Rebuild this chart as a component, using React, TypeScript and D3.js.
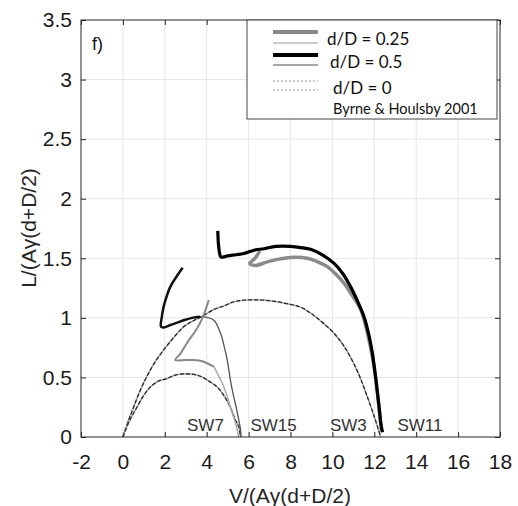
// App.tsx
import React, { useEffect, useRef } from 'react';
import * as d3 from 'd3';

// d/D = 0.5, thick black (upper branch and left hook)
const half_upper: [number, number][] = [
    [4.53, 1.73], [4.56, 1.62], [4.62, 1.54], [4.68, 1.51], [5.0, 1.52], [5.4, 1.53], [5.77, 1.54],
    [6.3, 1.57], [6.73, 1.58], [7.3, 1.6], [8.0, 1.6], [8.5, 1.59], [8.96, 1.575], [9.5, 1.53],
    [10.08, 1.457], [10.5, 1.37], [10.87, 1.26], [11.2, 1.14], [11.51, 1.01], [11.75, 0.85],
    [11.91, 0.7], [12.05, 0.52], [12.15, 0.37], [12.25, 0.22], [12.31, 0.115], [12.39, 0.04],
];
const half_hook: [number, number][] = [
    [2.85, 1.42], [2.5, 1.33], [2.26, 1.26], [2.05, 1.16], [1.94, 1.09], [1.85, 1.0], [1.82, 0.925],
    [1.95, 0.92], [2.26, 0.94], [2.6, 0.96], [2.9, 0.98], [3.3, 1.0], [3.7, 1.01],
];

// d/D = 0.25, thick grey
const quarter_upper: [number, number][] = [
    [6.54, 1.56], [6.3, 1.5], [6.06, 1.457], [6.33, 1.44], [6.89, 1.47], [7.5, 1.495], [8.0, 1.507],
    [8.8, 1.5], [9.3, 1.47], [9.76, 1.43], [10.2, 1.36], [10.56, 1.29], [10.9, 1.2], [11.36, 1.065],
    [11.7, 0.85], [11.9, 0.68], [12.1, 0.45], [12.25, 0.2], [12.35, 0.05],
];
const quarter_hook: [number, number][] = [
    [4.1, 1.15], [3.8, 1.0], [3.5, 0.9], [3.1, 0.8], [2.75, 0.7], [2.5, 0.646], [3.06, 0.646],
    [3.7, 0.64], [4.34, 0.59],
];
const quarter_tail: [number, number][] = [
    [4.34, 0.59], [4.82, 0.42], [5.13, 0.25], [5.4, 0.1], [5.53, 0.0],
];

// thin solid (Byrne & Houlsby 2001)
const bh_thin: [number, number][] = [
    [3.76, 1.01], [4.34, 0.98], [4.66, 0.87], [4.85, 0.75], [4.98, 0.646], [5.13, 0.48],
    [5.25, 0.37], [5.38, 0.27], [5.5, 0.17], [5.6, 0.08], [5.65, 0.0],
];

// d/D = 0, dotted arcs
const zero_large: [number, number][] = [
    [0, 0], [0.25, 0.13], [0.51, 0.25], [0.8, 0.38], [1.15, 0.51], [1.5, 0.62], [1.94, 0.73],
    [2.4, 0.83], [2.9, 0.925], [3.3, 0.97], [3.76, 1.01], [4.34, 1.07], [4.82, 1.1], [5.3, 1.135],
    [5.9, 1.15], [6.57, 1.15], [7.2, 1.14], [7.8, 1.12], [8.48, 1.09], [9.0, 1.035], [9.5, 0.965],
    [10.08, 0.87], [10.6, 0.75], [11.2, 0.55], [11.6, 0.37], [12.0, 0.17], [12.2, 0.06], [12.3, 0],
];
const zero_small: [number, number][] = [
    [0, 0], [0.3, 0.13], [0.67, 0.25], [1.0, 0.35], [1.31, 0.42], [1.7, 0.47], [2.1, 0.49],
    [2.5, 0.52], [2.98, 0.53], [3.4, 0.525], [3.7, 0.51], [4.1, 0.47], [4.5, 0.42], [4.85, 0.34],
    [5.13, 0.25], [5.35, 0.15], [5.53, 0.085], [5.61, 0],
];

const test_labels = ['SW7', 'SW15', 'SW3', 'SW11'];
const test_label_x = [3.94, 7.19, 10.76, 14.18];

const x_ticks = [-2, 0, 2, 4, 6, 8, 10, 12, 14, 16, 18];
const y_ticks = [0, 0.5, 1, 1.5, 2, 2.5, 3, 3.5];

const legend_labels = ['d/D = 0.25', 'd/D = 0.5', 'd/D = 0', 'Byrne & Houlsby 2001'];

export default function App() {
    const ref = useRef<SVGSVGElement>(null);

    useEffect(() => {
        drawChart();
        // eslint-disable-next-line
    }, []);

    function drawChart() {
        const width = 518;
        const height = 506;
        const margin = { top: 20, right: 18, bottom: 69, left: 81 };
        const iw = 500 - margin.left;
        const ih = 437 - margin.top;

        const svg = d3.select(ref.current);
        svg.selectAll('*').remove();
        svg.attr('width', width).attr('height', height);

        const g = svg.append('g').attr('transform', `translate(${margin.left},${margin.top})`);

        const x = d3.scaleLinear().domain([-2, 18]).range([0, iw]);
        const y = d3.scaleLinear().domain([0, 3.5]).range([ih, 0]);

        // grid
        g.append('g')
            .selectAll('line')
            .data(x_ticks.slice(1, -1))
            .enter()
            .append('line')
            .attr('x1', (d) => x(d))
            .attr('x2', (d) => x(d))
            .attr('y1', 0)
            .attr('y2', ih)
            .attr('stroke', '#e6e6e6');
        g.append('g')
            .selectAll('line')
            .data(y_ticks.slice(1, -1))
            .enter()
            .append('line')
            .attr('x1', 0)
            .attr('x2', iw)
            .attr('y1', (d) => y(d))
            .attr('y2', (d) => y(d))
            .attr('stroke', '#e6e6e6');

        // axes (ticks inward, box on all sides)
        const font = 'Liberation Sans, Arial, sans-serif';
        const styleAxis = (sel: any) => {
            sel.select('.domain').remove();
            sel.selectAll('line').attr('stroke', '#262626');
            sel.selectAll('text').attr('fill', '#1a1a1a').style('font-family', font).style('font-size', '21px');
        };
        g.append('g')
            .attr('transform', `translate(0,${ih})`)
            .call(d3.axisBottom(x).tickValues(x_ticks).tickSizeInner(-5).tickPadding(17).tickFormat((d) => String(d)))
            .call(styleAxis);
        g.append('g')
            .call(d3.axisTop(x).tickValues(x_ticks).tickSizeInner(-5).tickFormat(() => ''))
            .call(styleAxis);
        g.append('g')
            .call(
                d3
                    .axisLeft(y)
                    .tickValues(y_ticks)
                    .tickSizeInner(-5)
                    .tickPadding(9)
                    .tickFormat((d) => String(d)),
            )
            .call(styleAxis);
        g.append('g')
            .attr('transform', `translate(${iw},0)`)
            .call(d3.axisRight(y).tickValues(y_ticks).tickSizeInner(-5).tickFormat(() => ''))
            .call(styleAxis);

        const line = d3
            .line<[number, number]>()
            .x((d) => x(d[0]))
            .y((d) => y(d[1]))
            .curve(d3.curveCatmullRom);

        // d/D = 0 arcs: light grey under black dotted
        [zero_large, zero_small].forEach((arr) => {
            g.append('path').attr('d', line(arr)).attr('fill', 'none').attr('stroke', '#aaa').attr('stroke-width', 1.6);
            g.append('path')
                .attr('d', line(arr))
                .attr('fill', 'none')
                .attr('stroke', '#222')
                .attr('stroke-width', 1.2)
                .attr('stroke-dasharray', '4,2');
        });

        g.append('path').attr('d', line(bh_thin)).attr('fill', 'none').attr('stroke', '#555').attr('stroke-width', 1.3);
        g.append('path').attr('d', line(quarter_tail)).attr('fill', 'none').attr('stroke', '#aaa').attr('stroke-width', 1.5);
        g.append('path').attr('d', line(quarter_hook)).attr('fill', 'none').attr('stroke', '#888').attr('stroke-width', 2);
        g.append('path').attr('d', line(quarter_upper)).attr('fill', 'none').attr('stroke', '#8a8a8a').attr('stroke-width', 3.5);
        g.append('path').attr('d', line(half_hook)).attr('fill', 'none').attr('stroke', '#111').attr('stroke-width', 2.5);
        g.append('path').attr('d', line(half_upper)).attr('fill', 'none').attr('stroke', '#000').attr('stroke-width', 3.2);

        // SW labels
        g.append('g')
            .selectAll('text')
            .data(test_labels)
            .enter()
            .append('text')
            .attr('x', (d, i) => x(test_label_x[i]))
            .attr('y', y(0.1))
            .attr('text-anchor', 'middle')
            .attr('dominant-baseline', 'central')
            .style('font-family', font)
            .style('font-size', '17px')
            .attr('fill', '#333')
            .text((d) => d);

        // frame
        g.append('rect')
            .attr('width', iw)
            .attr('height', ih)
            .attr('fill', 'none')
            .attr('stroke', '#262626')
            .attr('stroke-width', 1);

        // panel label
        g.append('text')
            .attr('x', 11)
            .attr('y', 30)
            .style('font-family', font)
            .style('font-size', '18px')
            .attr('fill', '#111')
            .text('f)');

        // legend
        const lg = svg.append('g').attr('transform', 'translate(247,20)');
        lg.append('rect').attr('width', 250).attr('height', 99).attr('fill', '#fff').attr('stroke', '#444');
        const lfont = 'Lato, Open Sans, sans-serif';
        const lx1 = 26;
        const lx2 = 71;
        lg.append('line').attr('x1', lx1).attr('x2', lx2).attr('y1', 12).attr('y2', 12).attr('stroke', '#8a8a8a').attr('stroke-width', 4);
        lg.append('line').attr('x1', lx1).attr('x2', lx2).attr('y1', 23).attr('y2', 23).attr('stroke', '#bbb').attr('stroke-width', 1.5);
        lg.append('line').attr('x1', lx1).attr('x2', lx2).attr('y1', 35).attr('y2', 35).attr('stroke', '#000').attr('stroke-width', 4);
        lg.append('line').attr('x1', lx1).attr('x2', lx2).attr('y1', 45).attr('y2', 45).attr('stroke', '#888').attr('stroke-width', 1.5);
        [61, 70].forEach((yy) => {
            lg.append('line')
                .attr('x1', lx1)
                .attr('x2', lx2)
                .attr('y1', yy)
                .attr('y2', yy)
                .attr('stroke', '#999')
                .attr('stroke-width', 1.2)
                .attr('stroke-dasharray', '2,2');
        });
        const lpos = [
            [80, 18, 17],
            [83, 41, 17],
            [86, 67, 17],
            [86, 88, 14.5],
        ];
        lg.selectAll('text.lbl')
            .data(legend_labels)
            .enter()
            .append('text')
            .attr('class', 'lbl')
            .attr('x', (d, i) => lpos[i][0])
            .attr('y', (d, i) => lpos[i][1])
            .attr('dominant-baseline', 'central')
            .style('font-family', lfont)
            .style('font-size', (d, i) => `${lpos[i][2]}px`)
            .attr('fill', '#111')
            .text((d) => d);

        // axis titles
        svg.append('text')
            .attr('x', 290)
            .attr('y', 495)
            .attr('text-anchor', 'middle')
            .attr('dominant-baseline', 'central')
            .style('font-family', font)
            .style('font-size', '21px')
            .attr('fill', '#262626')
            .text('V/(A\u03b3(d+D/2)');
        svg.append('text')
            .attr('transform', 'translate(28,228) rotate(-90)')
            .attr('text-anchor', 'middle')
            .attr('dominant-baseline', 'central')
            .style('font-family', font)
            .style('font-size', '21px')
            .attr('fill', '#262626')
            .text('L/(A\u03b3(d+D/2)');
    }

    return (
        <svg
            ref={ref}
            style={{ position: 'absolute', left: 0, top: 0, display: 'block', background: '#fff' }}
        />
    );
}
